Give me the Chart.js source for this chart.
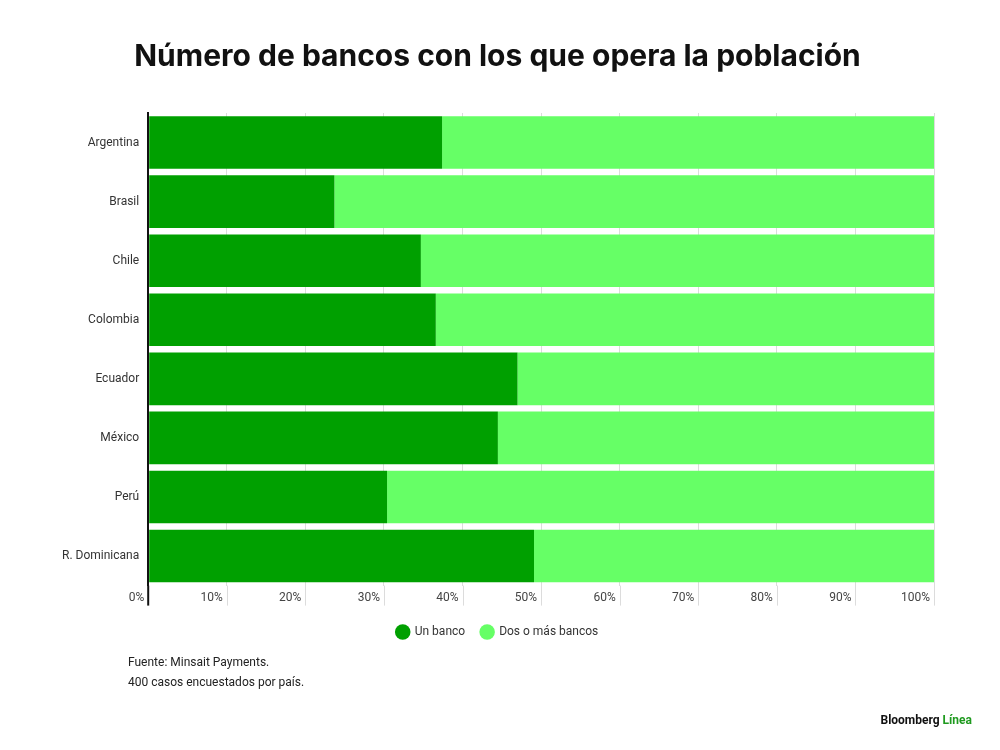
<!DOCTYPE html>
<html>
<head>
<meta charset="utf-8">
<script src="https://cdn.jsdelivr.net/npm/chart.js@4"></script>
<style>
  html, body { margin: 0; padding: 0; background: #fff; }
  #wrap { width: 1000px; height: 750px; }
</style>
</head>
<body>
<div id="wrap"><canvas id="chart"></canvas></div>
<script>
var paises = ['Argentina', 'Brasil', 'Chile', 'Colombia', 'Ecuador', 'México', 'Perú', 'R. Dominicana'];
var unBanco = [37.4, 23.7, 34.7, 36.6, 47.0, 44.5, 30.4, 49.1];
var dosOMas = [62.6, 76.3, 65.3, 63.4, 53.0, 55.5, 69.6, 50.9];
var tickLabels = ['0%', '10%', '20%', '30%', '40%', '50%', '60%', '70%', '80%', '90%', '100%'];
var fuente = ['Fuente: Minsait Payments.', '400 casos encuestados por país.'];

var font = "Inter, 'Noto Sans', sans-serif";
var smallFont = "Roboto, 'Liberation Sans', sans-serif";

// gridlines keep going a bit below the bars, beside the % labels
var tickExtPlugin = {
    id: 'tickExt',
    afterDatasetsDraw: function(chart) {
        var ctx = chart.ctx;
        var xs = chart.scales.x;
        var bottom = chart.chartArea.bottom;
        ctx.save();
        xs.ticks.forEach(function(t, i) {
            var px = xs.getPixelForValue(t.value);
            if (i > 0) px = Math.round(px) + 0.5;
            ctx.strokeStyle = i === 0 ? '#111' : '#dcdcdc';
            ctx.lineWidth = i === 0 ? 2 : 1;
            ctx.beginPath();
            ctx.moveTo(px, bottom);
            ctx.lineTo(px, bottom + 20);
            ctx.stroke();
        });
        ctx.restore();
    }
};

// footer text + brand, drawn after the chart
var footerPlugin = {
    id: 'footer',
    afterDraw: function(chart) {
        var ctx = chart.ctx;
        ctx.save();
        ctx.fillStyle = '#222';
        ctx.font = '12px ' + smallFont;
        ctx.textBaseline = 'middle';
        ctx.textAlign = 'left';
        ctx.fillText(fuente[0], 128, 663);
        ctx.fillText(fuente[1], 128, 683);

        ctx.font = 'bold 12px ' + smallFont;
        ctx.textAlign = 'right';
        ctx.fillStyle = '#1f9a1f';
        var w = ctx.measureText('Línea').width;
        ctx.fillText('Línea', 972, 721);
        ctx.fillStyle = '#111';
        ctx.fillText('Bloomberg ', 972 - w, 721);
        ctx.restore();
    }
};

var ctx = document.getElementById('chart').getContext('2d');
var myChart = new Chart(ctx, {
    type: 'bar',
    data: {
        labels: paises,
        datasets: [{
            label: 'Un banco',
            data: unBanco,
            backgroundColor: '#00a000',
            borderWidth: 0
        }, {
            label: 'Dos o más bancos',
            data: dosOMas,
            backgroundColor: '#66ff66',
            borderWidth: 0
        }]
    },
    options: {
        indexAxis: 'y',
        responsive: true,
        maintainAspectRatio: false,
        animation: false,
        categoryPercentage: 1,
        barPercentage: 0.89,
        layout: {
            padding: { left: 61, right: 66, bottom: 102, top: 0 }
        },
        scales: {
            x: {
                stacked: true,
                min: 0,
                max: 100,
                border: { display: false },
                grid: {
                    color: function(c) { return c.index === 0 ? '#111' : '#dcdcdc'; },
                    lineWidth: function(c) { return c.index === 0 ? 2 : 1; },
                    drawTicks: false
                },
                ticks: {
                    stepSize: 10,
                    align: 'end',
                    labelOffset: -4,
                    padding: 5,
                    color: '#444',
                    font: { family: smallFont, size: 12 },
                    callback: function(v, i) { return tickLabels[i]; }
                }
            },
            y: {
                stacked: true,
                border: { display: true, color: '#111', width: 2 },
                grid: { display: false },
                ticks: {
                    padding: 1,
                    color: '#333',
                    font: { family: smallFont, size: 12 }
                }
            }
        },
        plugins: {
            title: {
                display: true,
                text: 'Número de bancos con los que opera la población',
                color: '#111',
                font: { family: font, size: 30, weight: 'bold' },
                padding: { top: 39, bottom: 38 }
            },
            legend: {
                position: 'bottom',
                labels: {
                    usePointStyle: true,
                    pointStyle: 'circle',
                    boxHeight: 11,
                    padding: 16,
                    color: '#333',
                    font: { family: smallFont, size: 12 }
                }
            },
            tooltip: { enabled: false }
        }
    },
    plugins: [tickExtPlugin, footerPlugin]
});
</script>
</body>
</html>
